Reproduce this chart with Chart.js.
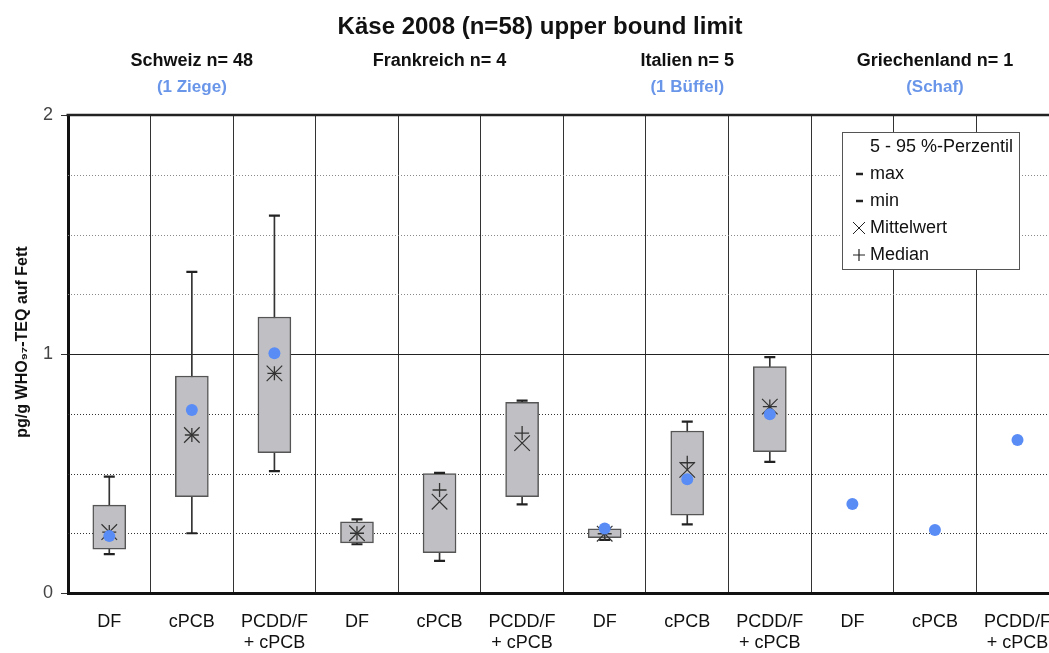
<!DOCTYPE html>
<html><head><meta charset="utf-8">
<script src="https://cdn.jsdelivr.net/npm/chart.js@4.4.0/dist/chart.umd.min.js"></script>
<style>
html,body{margin:0;padding:0;background:#fff;overflow:hidden;}
#wrap{width:1071px;height:653px;position:relative;}
</style></head><body>
<div id="wrap"><canvas id="c"></canvas></div>
<script>
// ---- data ----
const categories = [["DF"],["cPCB"],["PCDD/F","+ cPCB"],["DF"],["cPCB"],["PCDD/F","+ cPCB"],["DF"],["cPCB"],["PCDD/F","+ cPCB"],["DF"],["cPCB"],["PCDD/F","+ cPCB"]];
const countries = ["Schweiz n= 48","Frankreich n= 4","Italien n= 5","Griechenland n= 1"];
const specialNotes = ["(1 Ziege)","","(1 Büffel)","(Schaf)"];
const p05    = [0.183,0.403,0.587, 0.210,0.169,0.403, 0.231,0.326,0.591, null,null,null];
const p95    = [0.368,0.908,1.155, 0.298,0.500,0.798, 0.268,0.678,0.947, null,null,null];
const maxV   = [0.487,1.344,1.579, 0.308,0.503,0.805, 0.272,0.717,0.987, null,null,null];
const minV   = [0.163,0.250,0.510, 0.204,0.134,0.371, 0.222,0.287,0.549, null,null,null];
const meanV  = [0.255,0.661,0.919, 0.250,0.382,0.627, 0.248,0.515,0.780, null,null,null];
const medianV= [0.255,0.661,0.919, 0.250,0.431,0.669, 0.248,0.545,0.780, null,null,null];
const specialV=[0.238,0.766,1.003, null,null,null, 0.270,0.476,0.748, 0.372,0.264,0.640];
const yMin = 0, yMax = 2, yStep = 0.25;
const yTitle = "pg/g WHO₉₇-TEQ auf Fett";
const chartTitle = "Käse 2008 (n=58) upper bound limit";
const legendItems = ["5 - 95 %-Perzentil","max","min","Mittelwert","Median"];

const FF = "'Liberation Sans', Arial, 'DejaVu Sans', sans-serif";
const BLUE = '#5a8cf6';

const boxData = p05.map((v,i)=> v==null?null:[v,p95[i]]);
const whiskerData = minV.map((v,i)=> v==null?null:[v,maxV[i]]);

const decor = {
  id:'decor',
  beforeDatasetsDraw(chart){
    const {ctx, chartArea:a, scales:{y}} = chart;
    ctx.save();
    y.ticks.forEach(t=>{
      const v = t.value;
      if (v<=y.min || v>=y.max) return;
      const py = Math.round(y.getPixelForValue(v))+0.5;
      ctx.beginPath();
      if (Number.isInteger(v)) { ctx.setLineDash([]); ctx.strokeStyle='#222'; }
      else { ctx.setLineDash([1,2]); ctx.strokeStyle = v>1 ? '#8a8a8a' : '#333'; }
      ctx.lineWidth = 1;
      ctx.moveTo(a.left,py); ctx.lineTo(a.right,py); ctx.stroke();
    });
    ctx.restore();
  },
  afterDatasetsDraw(chart){
    const {ctx} = chart;
    ctx.save();
    // legend box
    const lx=842.5, ly=132.5, lw=177, lh=137;
    ctx.fillStyle='#fff'; ctx.fillRect(lx,ly,lw,lh);
    ctx.strokeStyle='#555'; ctx.lineWidth=1; ctx.strokeRect(lx,ly,lw,lh);
    ctx.font = '18px '+FF; ctx.fillStyle='#111'; ctx.textBaseline='middle'; ctx.textAlign='left';
    legendItems.forEach((txt,i)=>{
      const yy = 147 + i*27;
      ctx.fillText(txt, 870, yy);
      ctx.strokeStyle='#222';
      ctx.beginPath();
      if (i===1 || i===2) { ctx.lineWidth=2.5; ctx.moveTo(856,yy); ctx.lineTo(863,yy); }
      else if (i===3) { ctx.lineWidth=1; ctx.moveTo(853,yy-6); ctx.lineTo(865,yy+6); ctx.moveTo(865,yy-6); ctx.lineTo(853,yy+6); }
      else if (i===4) { ctx.lineWidth=1.2; ctx.moveTo(853,yy); ctx.lineTo(865,yy); ctx.moveTo(859,yy-6); ctx.lineTo(859,yy+6); }
      ctx.stroke();
    });
    ctx.restore();
  },
  afterDraw(chart){
    const {ctx, chartArea:a, scales:{x}} = chart;
    ctx.save();
    // top border
    ctx.strokeStyle='#222'; ctx.lineWidth=2.5;
    ctx.beginPath(); ctx.moveTo(a.left-1.5,a.top); ctx.lineTo(a.right,a.top); ctx.stroke();
    // y title
    ctx.save();
    ctx.translate(23, 342); ctx.rotate(-Math.PI/2);
    ctx.font='bold 16px '+FF; ctx.fillStyle='#111'; ctx.textAlign='center'; ctx.textBaseline='middle';
    ctx.fillText(yTitle, 0, 0);
    ctx.restore();
    // title
    ctx.fillStyle='#111'; ctx.textAlign='center'; ctx.textBaseline='middle';
    ctx.font='bold 24px '+FF;
    ctx.fillText(chartTitle, 540, 27);
    countries.forEach((c,i)=>{
      const cx = x.getPixelForValue(i*3+1);
      ctx.font='bold 18px '+FF; ctx.fillStyle='#111';
      ctx.fillText(c, cx, 61);
      if (specialNotes[i]) {
        ctx.font='bold 17px '+FF; ctx.fillStyle='#6a96ea';
        ctx.fillText(specialNotes[i], cx, 87);
      }
    });
    ctx.restore();
  }
};

new Chart(document.getElementById('c'), {
  type:'bar',
  data:{
    labels: categories,
    datasets:[
      {type:'bar', data: whiskerData, backgroundColor:'#333', borderWidth:0, barThickness:1, grouped:false, order:6},
      {type:'bar', data: boxData, backgroundColor:'#c0c0c4', borderColor:'#555', borderWidth:1.5, borderSkipped:false, barThickness:33, grouped:false, order:5},
      {type:'line', data: maxV, showLine:false, pointStyle:'line', pointRadius:5.5, pointBorderWidth:2.2, borderColor:'#222', backgroundColor:'#222', order:4},
      {type:'line', data: minV, showLine:false, pointStyle:'line', pointRadius:5.5, pointBorderWidth:2.2, borderColor:'#222', backgroundColor:'#222', order:4},
      {type:'line', data: meanV, showLine:false, pointStyle:'crossRot', pointRadius:11, pointBorderWidth:1.2, borderColor:'#333', backgroundColor:'#333', order:3},
      {type:'line', data: medianV, showLine:false, pointStyle:'cross', pointRadius:7, pointBorderWidth:1.3, borderColor:'#333', backgroundColor:'#333', order:2},
      {type:'line', data: specialV, showLine:false, pointStyle:'circle', pointRadius:6, pointBorderWidth:0, borderColor:BLUE, backgroundColor:BLUE, order:1}
    ]
  },
  options:{
    responsive:true, maintainAspectRatio:false, animation:false,
    layout:{padding:{top:115,left:0,right:3,bottom:0}},
    plugins:{legend:{display:false}, tooltip:{enabled:false}},
    scales:{
      x:{
        grid:{display:true, color:'#333', lineWidth:1, drawTicks:false, offset:true},
        border:{display:true, color:'#111', width:3},
        ticks:{font:{family:FF,size:18}, color:'#111', padding:18, maxRotation:0, autoSkip:false},
        afterFit(s){ s.height = 60; }
      },
      y:{
        min:yMin, max:yMax,
        grid:{drawOnChartArea:false, drawTicks:true, tickLength:7, tickColor:(c)=> (c.tick && Number.isInteger(c.tick.value)) ? '#333':'rgba(0,0,0,0)'},
        border:{display:true, color:'#111', width:3},
        ticks:{stepSize:yStep, autoSkip:false, padding:8, font:{family:FF,size:18}, color:'#444',
               callback:(v)=> Number.isInteger(v) ? String(v) : ''},
        title:{display:false},
        afterFit(s){ s.width = 68; }
      }
    }
  },
  plugins:[decor]
});
</script>
</body></html>
